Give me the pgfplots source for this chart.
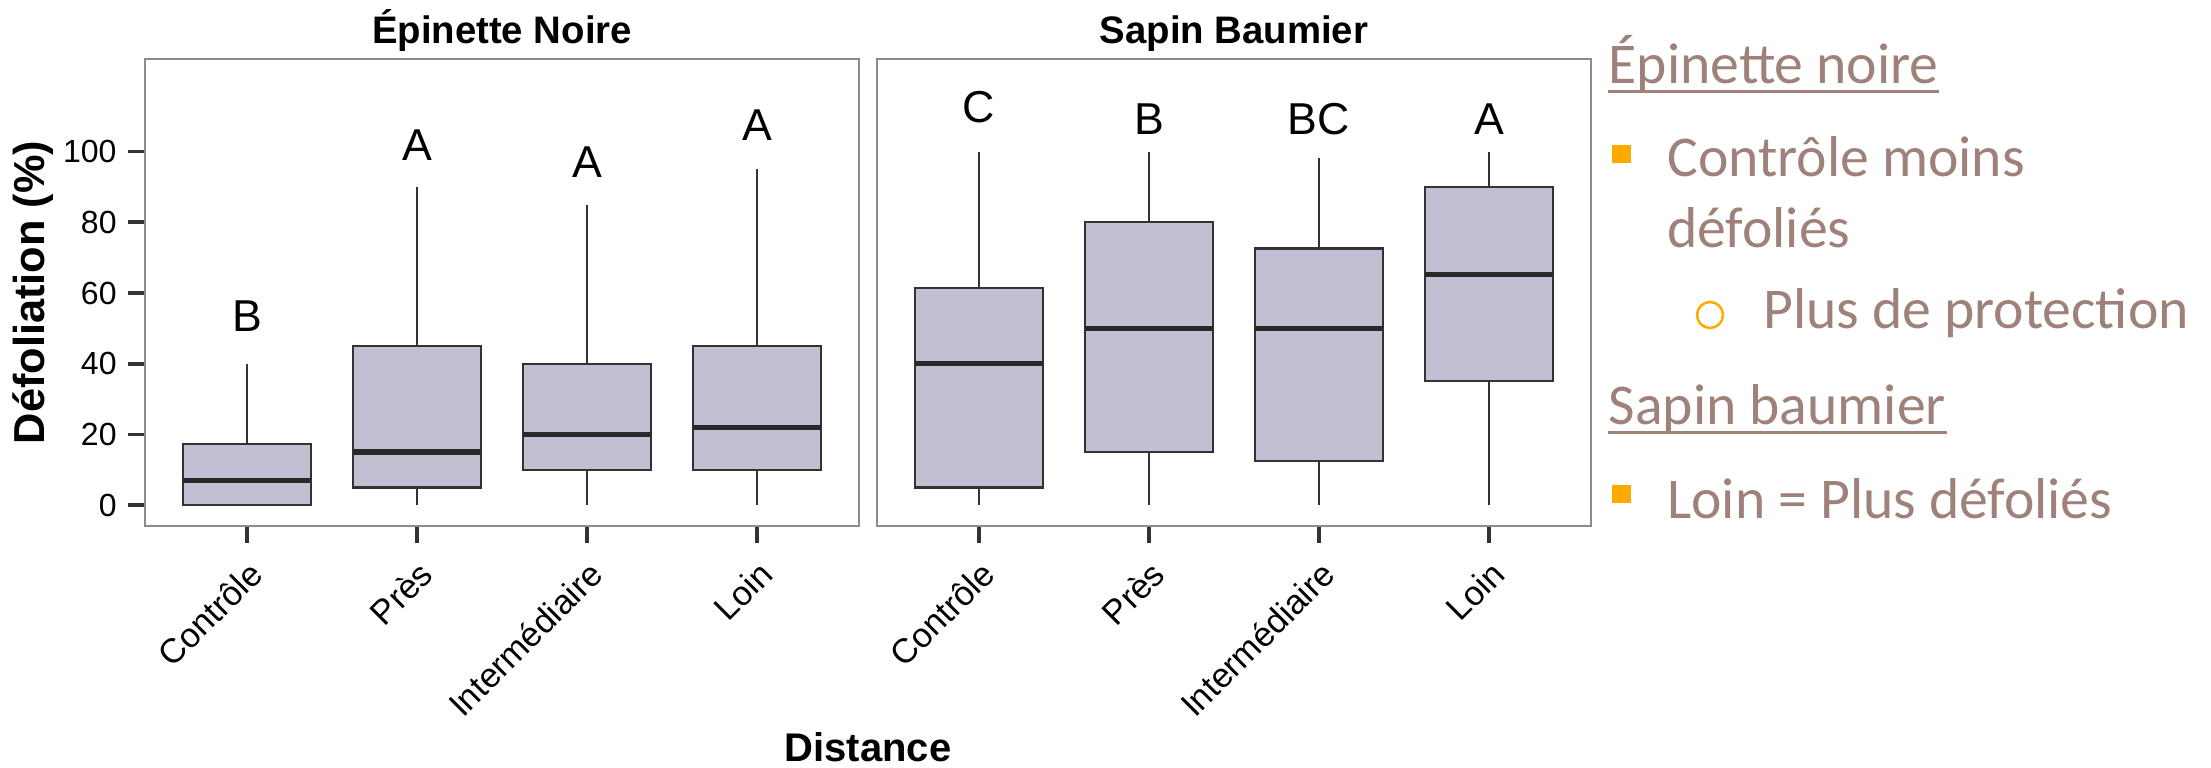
\documentclass[border=0pt]{standalone}
\usepackage{fontspec}
\setmainfont{Liberation Sans}
\newfontfamily\carlito{Carlito}
\usepackage{pgfplots}
\pgfplotsset{compat=1.18}
\usepgfplotslibrary{statistics}
\definecolor{boxfill}{RGB}{193,192,210}
\definecolor{boxedge}{RGB}{51,51,51}
\definecolor{framecol}{RGB}{140,140,140}
\definecolor{txtbrown}{RGB}{158,130,121}
\definecolor{bulletorange}{RGB}{255,170,0}
\pgfplotsset{
 panel/.style={
  scale only axis, width=214.2pt, height=140.1pt,
  xmin=0.4, xmax=4.6, ymin=-5.9, ymax=126.2,
  xtick={1,2,3,4}, xticklabels={Contrôle,Près,Intermédiaire,Loin},
  xtick pos=left, ytick pos=left, tick align=outside,
  major tick length=5pt,
  tick style={draw=boxedge, line width=1.1pt},
  axis line style={draw=framecol, line width=0.6pt},
  xticklabel style={font=\fontsize{10.3}{12}\selectfont, rotate=45, anchor=north east, text=black},
  yticklabel style={font=\fontsize{9.6}{11}\selectfont},
  /pgf/number format/assume math mode=true,
  every axis title/.style={font=\bfseries\fontsize{11.5}{13}\selectfont, at={(0.5,1)}, anchor=base, yshift=4.7pt},
  clip=false,
  boxplot/draw direction=y,
  boxplot/box extend=0.75,
  boxplot/whisker extend=0,
  boxplot/every box/.style={draw=boxedge, fill=boxfill, line width=0.65pt},
  boxplot/every whisker/.style={draw=boxedge, line width=0.65pt},
  boxplot/every median/.style={draw=boxedge!80!black, line width=1.6pt},
 },
 bx/.style={draw=boxedge, fill=boxfill, line width=0.65pt, solid},
}
\tikzset{letter/.style={font=\fontsize{13.4}{15}\selectfont}}
\begin{document}
\begin{tikzpicture}
\path[use as bounding box] (0,0) rectangle (663.3pt,230.1pt);
\begin{axis}[panel, at={(43.5pt,72.3pt)}, anchor=south west,
  title={Épinette Noire},
  ytick={0,20,40,60,80,100},
  ylabel={Défoliation (\%)},
  every axis y label/.style={font=\bfseries\fontsize{13}{15}\selectfont, at={(rel axis cs:0,0.5)}, xshift=-33.6pt, rotate=90, anchor=center},
]
\addplot[bx, boxplot prepared={draw position=1, lower whisker=0, lower quartile=0, median=7, upper quartile=17.4, upper whisker=40}] coordinates {};
\addplot[bx, boxplot prepared={draw position=2, lower whisker=0, lower quartile=5, median=15, upper quartile=45, upper whisker=90}] coordinates {};
\addplot[bx, boxplot prepared={draw position=3, lower whisker=0, lower quartile=10, median=20, upper quartile=40, upper whisker=85}] coordinates {};
\addplot[bx, boxplot prepared={draw position=4, lower whisker=0, lower quartile=10, median=22, upper quartile=45, upper whisker=95}] coordinates {};
\node[letter] at (axis cs:1,53.4) {B};
\node[letter] at (axis cs:2,101.7) {A};
\node[letter] at (axis cs:3,97) {A};
\node[letter] at (axis cs:4,107.5) {A};
\end{axis}
\begin{axis}[panel, at={(263.1pt,72.3pt)}, anchor=south west,
  title={Sapin Baumier},
  ytick=\empty,
]
\addplot[bx, boxplot prepared={draw position=1, lower whisker=0, lower quartile=5, median=40, upper quartile=61.4, upper whisker=100}] coordinates {};
\addplot[bx, boxplot prepared={draw position=2, lower whisker=0, lower quartile=15, median=50, upper quartile=80.2, upper whisker=100}] coordinates {};
\addplot[bx, boxplot prepared={draw position=3, lower whisker=0, lower quartile=12.4, median=50, upper quartile=72.6, upper whisker=98.1}] coordinates {};
\addplot[bx, boxplot prepared={draw position=4, lower whisker=0, lower quartile=35, median=65.3, upper quartile=90, upper whisker=100}] coordinates {};
\node[letter] at (axis cs:1,112.6) {C};
\node[letter] at (axis cs:2,109.3) {B};
\node[letter] at (axis cs:3,109.3) {BC};
\node[letter] at (axis cs:4,109.3) {A};
\end{axis}
\node[font=\bfseries\fontsize{12}{14}\selectfont, anchor=base, inner sep=0pt] at (260.4pt,1.6pt) {Distance};
\begin{scope}[every node/.style={inner sep=0pt, text=txtbrown, font=\carlito\fontsize{17.3}{20}\selectfont}]
\node[anchor=base west] (t1) at (482.4pt,205.1pt) {Épinette noire};
\draw[txtbrown, line width=0.9pt] ([yshift=-2.5pt]t1.base west) -- ([yshift=-2.5pt]t1.base east);
\fill[bulletorange] (483.6pt,181.1pt) rectangle (489.3pt,186.6pt);
\node[anchor=base west] at (500pt,177.1pt) {Contrôle moins};
\node[anchor=base west] at (500pt,155.8pt) {défoliés};
\draw[bulletorange, line width=0.75pt] (513pt,135.6pt) circle (3.9pt);
\node[anchor=base west] at (528.8pt,131.4pt) {Plus de protection};
\node[anchor=base west] (t2) at (482.4pt,102.6pt) {Sapin baumier};
\draw[txtbrown, line width=0.9pt] ([yshift=-2.4pt]t2.base west) -- ([yshift=-2.4pt]t2.base east);
\fill[bulletorange] (483.6pt,79.1pt) rectangle (489.3pt,84.6pt);
\node[anchor=base west] at (500pt,74.6pt) {Loin = Plus défoliés};
\end{scope}
\end{tikzpicture}
\end{document}
